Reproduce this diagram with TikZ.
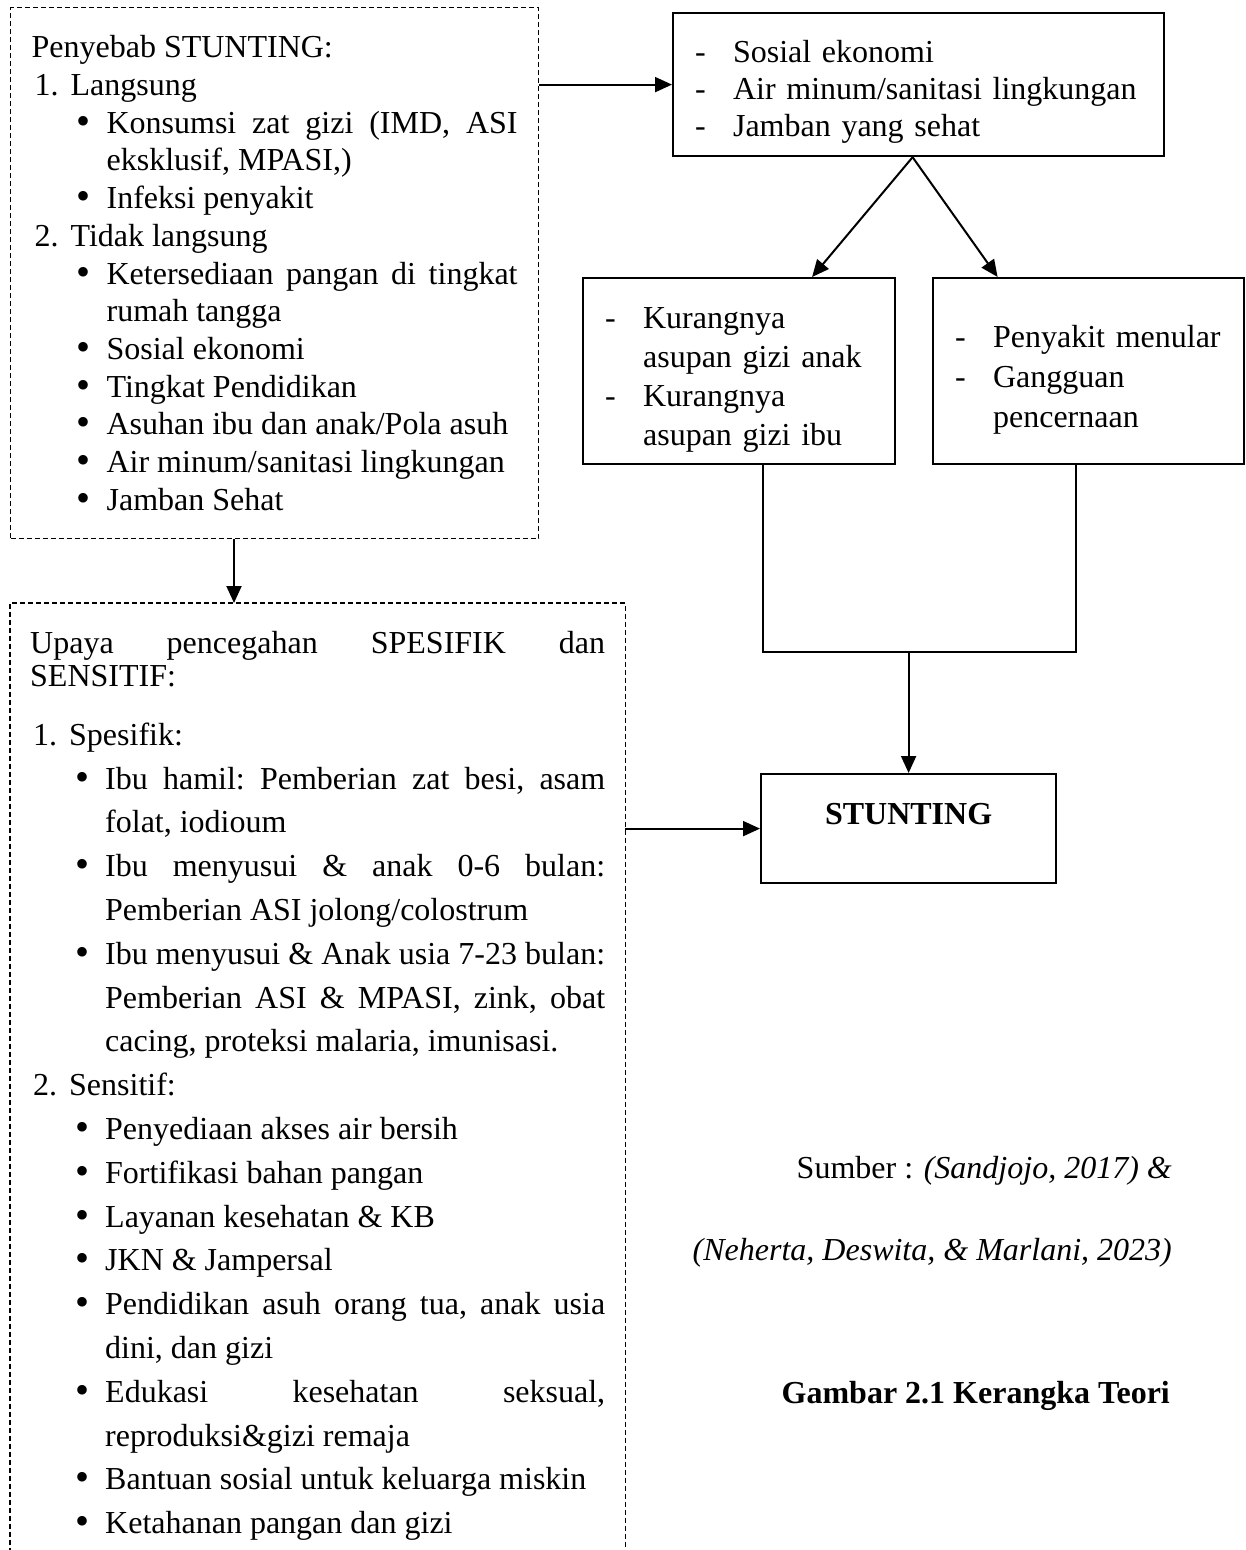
\documentclass[tikz,border=0pt]{standalone}
\usepackage{fontspec}
\setmainfont{Liberation Serif}
\usetikzlibrary{arrows.meta}
\usetikzlibrary{calc}
\usetikzlibrary{positioning}

\newcommand{\nomor}[1]{\par\leftskip=39pt\noindent\hspace*{-38pt}\makebox[38pt][l]{\hspace{2pt}#1}}
\newcommand{\butir}{\par\leftskip=75pt\noindent\hspace*{-30pt}\makebox[30pt][l]{\smash{\raisebox{-1pt}{\scalebox{1.25}{\textbullet}}}}}
\newcommand{\strip}{\par\leftskip=38pt\noindent\hspace*{-38pt}\makebox[38pt][l]{-}}
\newcommand{\awal}{\frenchspacing\parindent=0pt\parfillskip=0pt plus 1fil\tolerance=10000\hyphenpenalty=10000\relax}
\newcommand{\awalkiri}{\awal\rightskip=0pt plus 1fil\relax}

\begin{document}
\begin{tikzpicture}[x=1pt,y=-1pt,>={Triangle[length=17pt,width=15pt]},font=\fontsize{32}{38}\selectfont]
 				 \tikzstyle{kotak}=[draw,line width=2.2pt,rectangle,anchor=north west,inner ysep=0pt]
 				 \tikzstyle{putus}=[line width=1.2pt,dash pattern=on 5pt off 3pt]
 				 \tikzstyle{panah}=[->,line width=2pt]
 				 \tikzstyle{garis}=[line width=2pt]
 				 \tikzstyle{teks}=[anchor=base east,inner sep=0pt]
 					 \path[use as bounding box,fill=white] (0,0) rectangle (1245,1550);
 					 % kotak penyebab
 					 \node[draw,putus,anchor=north west,inner xsep=21pt,inner ysep=0pt,text width=486pt,minimum height=531pt,align=justify,font=\fontsize{32}{37.7}\selectfont] (sebab) at (10,7) {\awal
 					 Penyebab STUNTING:
 					 \nomor{1.}Langsung
 					 \butir Konsumsi zat gizi (IMD, ASI\linebreak eksklusif, MPASI,)
 					 \butir Infeksi penyakit
 					 \nomor{2.}Tidak langsung
 					 \butir Ketersediaan pangan di tingkat\linebreak rumah tangga
 					 \butir Sosial ekonomi
 					 \butir Tingkat Pendidikan
 					 \butir Asuhan ibu dan anak/Pola asuh
 					 \butir Air minum/sanitasi lingkungan
 					 \butir Jamban Sehat\par};
 					 \node[kotak,inner xsep=22pt,text width=447pt,minimum width=491pt,minimum height=143pt,align=left,font=\fontsize{32}{37}\selectfont] (faktor) at (672,12) {\awalkiri
 					 \strip Sosial ekonomi
 					 \strip Air minum/sanitasi lingkungan
 					 \strip Jamban yang sehat\par};
 					 \node[kotak,inner xsep=22pt,text width=268pt,minimum width=312pt,minimum height=186pt,align=left,font=\fontsize{32}{39}\selectfont] (kurang) at (582,277) {\awalkiri
 					 \strip Kurangnya\newline asupan gizi anak
 					 \strip Kurangnya\newline asupan gizi ibu\par};
 					 \node[kotak,inner xsep=22pt,text width=267pt,minimum width=311pt,minimum height=186pt,align=left,font=\fontsize{32}{40}\selectfont] (sakit) at (932,277) {\awalkiri
 					 \strip Penyakit menular
 					 \strip Gangguan\newline pencernaan\par\vspace*{16pt}};
 					 \node[kotak,minimum width=295pt,minimum height=109pt,text height=22pt,text depth=30pt,font=\bfseries\fontsize{32}{38}\selectfont] (stunting) at (760,773) {STUNTING};
 					 % kotak upaya (terbuka di bawah)
 					 \node[anchor=north west,inner xsep=20pt,inner ysep=28pt,text width=575pt,align=justify,font=\fontsize{32}{33}\selectfont] (upaya) at (10,603) {\awal
 					 Upaya pencegahan SPESIFIK dan\linebreak SENSITIF:\par
 					 \baselineskip=43.8pt\vspace{15pt}
 					 \nomor{1.}Spesifik:
 					 \butir Ibu hamil: Pemberian zat besi, asam\linebreak folat, iodioum
 					 \butir Ibu menyusui \& anak 0-6 bulan:\linebreak Pemberian ASI jolong/colostrum
 					 \butir Ibu menyusui \& Anak usia 7-23 bulan:\linebreak Pemberian ASI \& MPASI, zink, obat\linebreak cacing, proteksi malaria, imunisasi.
 					 \nomor{2.}Sensitif:
 					 \butir Penyediaan akses air bersih
 					 \butir Fortifikasi bahan pangan
 					 \butir Layanan kesehatan \& KB
 					 \butir JKN \& Jampersal
 					 \butir Pendidikan asuh orang tua, anak usia\linebreak dini, dan gizi
 					 \butir Edukasi kesehatan seksual,\linebreak reproduksi\&gizi remaja
 					 \butir Bantuan sosial untuk keluarga miskin
 					 \butir Ketahanan pangan dan gizi\par};
 					 \draw[putus] (upaya.south west) -- (upaya.north west) -- (upaya.north east) -- (upaya.south east);
 					 % sumber dan judul
 					 \node[teks] (sumber) at (1172,1178) {Sumber : \textit{(Sandjojo, 2017) \&}};
 					 \node[teks] (rujukan) at (1172,1260) {\textit{(Neherta, Deswita, \& Marlani, 2023)}};
 					 \node[teks,font=\bfseries\fontsize{32}{38}\selectfont] (judul) at (1170,1403) {Gambar 2.1 Kerangka Teori};
 					 % panah
 					 \coordinate (gabung) at ($(stunting.north)+(0,-121)$);
 					  \draw[panah] (faktor.west -| sebab.east) -- (faktor.west);
 					  \draw[panah] ([xshift=-6pt]faktor.south) -- ([xshift=73pt]kurang.north);
 					  \draw[panah] ([xshift=-6pt]faktor.south) -- ([xshift=-91pt]sakit.north);
 					  \draw[garis] ([xshift=24pt]kurang.south) |- (gabung) -| ([xshift=-12.5pt]sakit.south);
 					  \draw[panah] (gabung) -- (stunting.north);
 					  \draw[panah] ([xshift=224pt]sebab.south west) -- ([xshift=224pt]upaya.north west);
 					  \draw[panah] (stunting.west -| upaya.east) -- (stunting.west);
				\end{tikzpicture}
\end{document}
